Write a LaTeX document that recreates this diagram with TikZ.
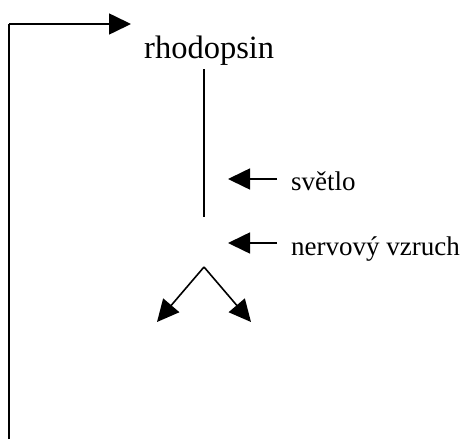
\documentclass[tikz,border=0pt]{standalone}
\usepackage{fontspec}
\setmainfont{Liberation Serif}
\usetikzlibrary{arrows.meta}
\begin{document}
\begin{tikzpicture}[x=1pt,y=-1pt,
  conn/.style={line width=1.6pt},
  arr/.style={conn,-{Triangle[length=22pt,width=21pt]}},
  bigtext/.style={inner sep=0pt,anchor=base west,font=\fontsize{32.5}{37}\selectfont},
  labeltext/.style={inner sep=0pt,anchor=base west,font=\fontsize{27}{31}\selectfont}]
\useasboundingbox (0,0) rectangle (462,439);
% feedback loop on the left
\coordinate (loopbottom) at (9,439);
\coordinate (loopcorner) at (9,24);
\coordinate (looptip) at (131,24);
\node[bigtext] (rhod) at (144,58) {rhodopsin};
\draw[conn] (loopbottom) -- (loopcorner);
\draw[arr] (loopcorner) -- (looptip);
% main stem below rhodopsin
\coordinate (stemtop) at (204,69);
\coordinate (stembot) at (204,217);
\draw[conn] (stemtop) -- (stembot);
% incoming stimuli
\node[labeltext] (light) at (291,190) {světlo};
\node[labeltext] (impulse) at (291,255) {nervový vzruch};
\coordinate (lighttail) at (277,179);
\coordinate (lighttip) at (228,179);
\coordinate (imptail) at (277,243);
\coordinate (imptip) at (228,243);
\draw[arr] (lighttail) -- (lighttip);
\draw[arr] (imptail) -- (imptip);
% split into two products
\coordinate (apex) at (204,267);
\coordinate (lefttip) at (157,322);
\coordinate (righttip) at (251,322);
\draw[arr] (apex) -- (lefttip);
\draw[arr] (apex) -- (righttip);
\end{tikzpicture}
\end{document}
